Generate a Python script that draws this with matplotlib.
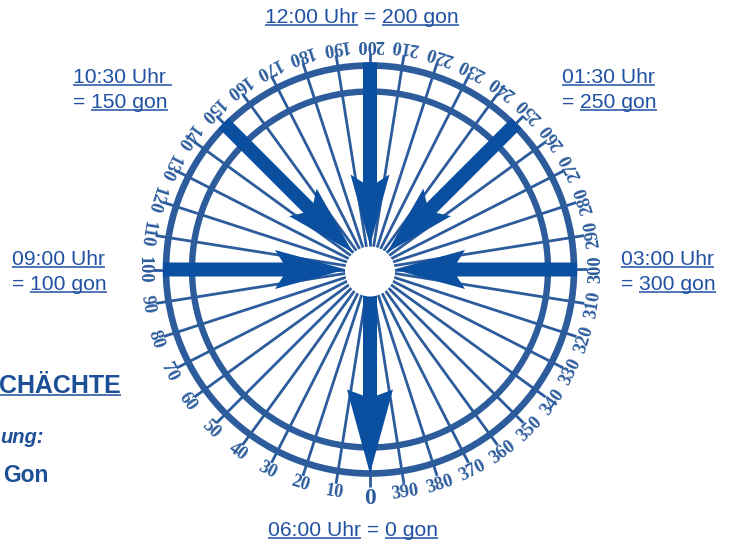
import numpy as np
import matplotlib
matplotlib.use("Agg")
import matplotlib.pyplot as plt
from matplotlib.patches import Circle, Polygon

# ---- data ----
tick_gons = list(range(0, 400, 10))
tick_labels = [str(g) for g in tick_gons]
arrow_gons = [0, 100, 150, 200, 250, 300]
arrow_outward = [True, False, False, False, False, False]
clock_labels = [
    # (segments (text, underlined), x, baseline)
    ([("12:00 Uhr", True), (" = ", False), ("200 gon", True)], 265, 23),
    ([("10:30 Uhr ", True)], 73, 83),
    ([("= ", False), ("150 gon", True)], 73, 108),
    ([("01:30 Uhr", True)], 562, 83),
    ([("= ", False), ("250 gon", True)], 562, 108),
    ([("09:00 Uhr", True)], 12, 265),
    ([("= ", False), ("100 gon", True)], 12, 290),
    ([("03:00 Uhr", True)], 621, 265),
    ([("= ", False), ("300 gon", True)], 621, 290),
    ([("06:00 Uhr", True), (" = ", False), ("0 gon", True)], 268, 536),
]

# ---- style ----
RING = "#2c5c9c"
ARROW = "#0b4fa1"
TXT = "#2051a3"
cx, cy = 370, 269.5
r_outer, r_inner, r_tick, r_label = 204, 178, 217, 225

fig = plt.figure(figsize=(7.33, 5.42), dpi=100)
ax = fig.add_axes([0, 0, 1, 1])
ax.set_xlim(0, 733)
ax.set_ylim(542, 0)
ax.axis("off")


def pt(g, r, s=0.0):
    a = np.deg2rad(g * 0.9)
    ux, uy = -np.sin(a), np.cos(a)
    vx, vy = np.cos(a), np.sin(a)
    return (cx + r * ux + s * vx, cy + r * uy + s * vy)


# spokes
for g in tick_gons:
    p0 = pt(g, 0)
    p1 = pt(g, r_tick)
    ax.plot([p0[0], p1[0]], [p0[1], p1[1]], color=RING, lw=2.0, zorder=1,
            solid_capstyle="butt")

# rings
for r, lw in [(r_outer, 4.8), (r_inner, 4.6)]:
    ax.add_patch(Circle((cx, cy), r, fill=False, ec=RING, lw=lw, zorder=2))

# arrows
for g, out in zip(arrow_gons, arrow_outward):
    w = 7.0
    if out:
        r0, rb, rj, rt, hw = 25, 120, 126, 204, 23
    else:
        r0, rb, rj, rt, hw = 207, 95, 87, 24, 19.5
    pts = [pt(g, r0, -w), pt(g, rj, -w), pt(g, rb, -hw), pt(g, rt, 0),
           pt(g, rb, hw), pt(g, rj, w), pt(g, r0, w)]
    ax.add_patch(Polygon(pts, closed=True, fc=ARROW, ec="none", zorder=3))

# center white circle
ax.add_patch(Circle((cx, cy + 2), 25, fc="white", ec="none", zorder=4))

# tick labels
for g, lab in zip(tick_gons, tick_labels):
    if g == 0:
        x, y = pt(g, 229)
        ax.text(x, y, lab, fontsize=17, fontweight="bold", family="Liberation Serif",
                color=RING, ha="center", va="center", rotation=0, zorder=5)
    else:
        x, y = pt(g, r_label + 0.5)
        ax.text(x, y, lab, fontsize=13.2, fontweight="bold", family="Liberation Serif",
                color=RING, ha="center", va="center", rotation=-0.9 * g,
                rotation_mode="anchor", zorder=5)

# clock labels with underlines
fig.canvas.draw()
renderer = fig.canvas.get_renderer()
inv = ax.transData.inverted()


def place(segments, x, y, size=15.2, color=TXT, weight="normal", style="normal"):
    for text, ul in segments:
        t = ax.text(x, y, text, fontsize=size, color=color, family="Liberation Sans",
                    fontweight=weight, fontstyle=style, ha="left", va="baseline")
        bb = t.get_window_extent(renderer)
        x0 = inv.transform((bb.x0, bb.y0))[0]
        x1 = inv.transform((bb.x1, bb.y0))[0]
        if ul:
            ax.plot([x0, x1], [y + 2.2, y + 2.2], color=color, lw=1.1,
                    solid_capstyle="butt")
        x = x1


for segs, x, y in clock_labels:
    place(segs, x, y)

# partially visible slide texts on the left
place([("CHÄCHTE", True)], -1, 393, size=18, color="#1c4f96", weight="bold")
ax.text(0, 443, "ung:", fontsize=14.5, color="#1c4f96", family="Liberation Sans",
        fontweight="bold", fontstyle="italic", ha="left", va="baseline")
ax.text(3, 481.5, "Gon", fontsize=16.5, color="#1c4f96", family="Liberation Sans",
        fontweight="bold", ha="left", va="baseline")

fig.savefig("out.png", dpi=100)
